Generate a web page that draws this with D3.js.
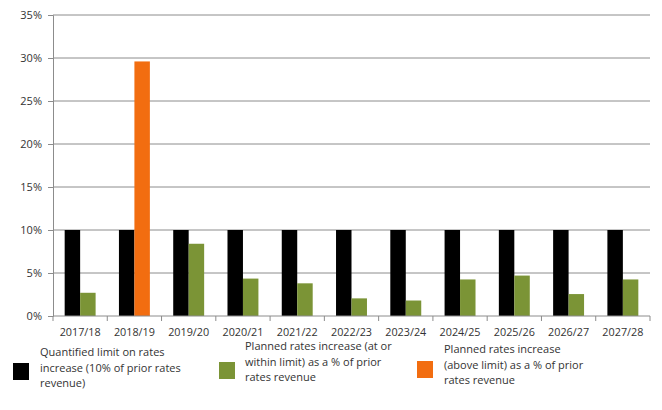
<!DOCTYPE html>
<html><head><meta charset="utf-8">
<script src="https://cdn.jsdelivr.net/npm/d3@7"></script>
<style>body{margin:0;background:#fff;} text{font-family:"Open Sans","Liberation Sans",sans-serif;}</style>
</head><body><svg id="c" width="662" height="410"></svg>
<script>
const categories = ["2017/18","2018/19","2019/20","2020/21","2021/22","2022/23","2023/24","2024/25","2025/26","2026/27","2027/28"];
const limitValues = [10,10,10,10,10,10,10,10,10,10,10];
const withinValues = [2.7,0,8.4,4.35,3.8,2.05,1.8,4.25,4.7,2.55,4.25];
const aboveValues = [0,29.6,0,0,0,0,0,0,0,0,0];
const yTicks = [0,5,10,15,20,25,30,35];
const seriesNames = ["Quantified limit on rates increase (10% of prior rates revenue)","Planned rates increase (at or within limit) as a % of prior rates revenue","Planned rates increase (above limit) as a % of prior rates revenue"];
const legendLines = [["Quantified limit on rates","increase (10% of prior rates","revenue)"],["Planned rates increase (at or","within limit) as a % of prior","rates revenue"],["Planned rates increase","(above limit) as a % of prior","rates revenue"]];
const colors = ["#000000","#7b9436","#f26d10"];

const svg = d3.select("#c");
const L=53, R=650, T=15, B=316;
const x = d3.scaleBand().domain(categories).range([L,R]).paddingInner(0.43).paddingOuter(0.215);
const slot = d3.scaleBand().domain([0,1]).range([0,x.bandwidth()]);
const y = d3.scaleLinear().domain([0,35]).range([B,T]);

// gridlines
svg.append("g").selectAll("line").data(yTicks.filter(d=>d>0)).join("line")
  .attr("x1",L).attr("x2",R).attr("y1",d=>y(d)).attr("y2",d=>y(d))
  .attr("stroke","#8c8c8c").attr("stroke-width",1);

// y axis
const ya = svg.append("g").attr("transform",`translate(${L},0)`)
  .call(d3.axisLeft(y).tickValues(yTicks).tickFormat(d=>d+"%").tickSize(5).tickPadding(6));
ya.select(".domain").attr("stroke","#8c8c8c");
ya.selectAll(".tick line").attr("stroke","#8c8c8c");
ya.selectAll("text").attr("font-size",11).attr("fill","#333");

// bars
const groups = [
  {vals:limitValues, s:0, c:colors[0]},
  {vals:withinValues, s:1, c:colors[1]},
  {vals:aboveValues, s:1, c:colors[2]}
];
groups.forEach(g=>{
  svg.append("g").selectAll("rect").data(categories.map((c,i)=>({c,v:g.vals[i]})).filter(d=>d.v>0)).join("rect")
    .attr("x",d=>x(d.c)+slot(g.s)).attr("width",slot.bandwidth())
    .attr("y",d=>y(d.v)).attr("height",d=>B-y(d.v)).attr("fill",g.c);
});

// x axis
const xa = svg.append("g").attr("transform",`translate(0,${B})`);
xa.append("line").attr("x1",L).attr("x2",R).attr("stroke","#8c8c8c");
xa.selectAll("line.t").data(d3.range(categories.length+1)).join("line").attr("class","t")
  .attr("x1",i=>L+i*(R-L)/categories.length).attr("x2",i=>L+i*(R-L)/categories.length)
  .attr("y1",0).attr("y2",5).attr("stroke","#8c8c8c");
xa.selectAll("text").data(categories).join("text")
  .attr("x",d=>x(d)+x.bandwidth()/2).attr("y",20).attr("text-anchor","middle")
  .attr("font-size",10.8).attr("fill","#333").text(d=>d);

// legend
const legPos = [{sx:13,sy:363,tx:40,ty:356},{sx:219,sy:362,tx:245,ty:350},{sx:417,sy:361,tx:444,ty:353}];
legPos.forEach((p,i)=>{
  svg.append("rect").attr("x",p.sx).attr("y",p.sy).attr("width",16).attr("height",17).attr("fill",colors[i]);
  const t = svg.append("text").attr("x",p.tx).attr("y",p.ty).attr("font-size",11).attr("fill","#333");
  legendLines[i].forEach((ln,j)=>t.append("tspan").attr("x",p.tx).attr("dy",j?15.5:0).text(ln));
});
</script></body></html>
